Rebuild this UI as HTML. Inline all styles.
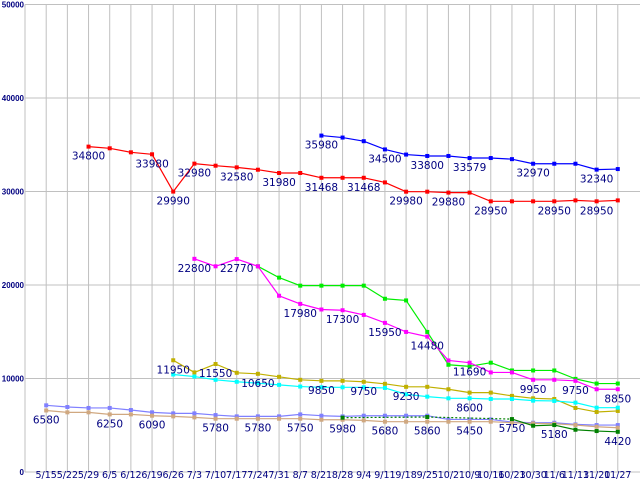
<!DOCTYPE html>
<html><head><meta charset="utf-8"><style>
body{margin:0;background:#fff}
svg{display:block;font-family:"DejaVu Sans","Liberation Sans",sans-serif}
</style></head><body>
<svg id="chart" width="640" height="480" viewBox="0 0 640 480"></svg>
<script>
const categories=["5/15","5/22","5/29","6/5","6/12","6/19","6/26","7/3","7/10","7/17","7/24","7/31","8/7","8/21","8/28","9/4","9/11","9/18","9/25","10/2","10/9","10/16","10/23","10/30","11/6","11/13","11/20","11/27"];
const yTicks=[0,10000,20000,30000,40000,50000];
const N=null;
const redValues=[N,N,34800,34620,34190,33980,29990,32980,32760,32580,32330,31980,31980,31468,31468,31468,30970,29980,29980,29880,29880,28950,28950,28950,28950,29050,28950,29050];
const blueValues=[N,N,N,N,N,N,N,N,N,N,N,N,N,35980,35770,35380,34500,33950,33800,33800,33579,33579,33460,32970,32970,32970,32340,32400];
const magentaValues=[N,N,N,N,N,N,N,22800,22000,22770,22000,18850,17980,17380,17300,16800,15950,14980,14480,11930,11690,10650,10650,9860,9860,9750,8850,8850];
const greenValues=[N,N,N,N,N,N,N,N,N,N,22000,20790,19930,19930,19930,19930,18530,18350,14980,11470,11300,11690,10860,10860,10860,9960,9460,9460];
const yellowValues=[N,N,N,N,N,N,11950,10650,11550,10610,10500,10180,9860,9750,9750,9650,9430,9110,9110,8850,8490,8490,8140,7880,7810,6850,6420,6530];
const cyanValues=[N,N,N,N,N,N,10430,10210,9860,9650,9500,9320,9140,9060,9060,9060,8990,8310,8060,7880,7880,7810,7810,7630,7600,7420,6880,6880];
const lightBlueValues=[7130,6950,6850,6850,6630,6380,6270,6270,6090,5950,5950,5950,6160,6020,5950,6020,6020,6020,6020,5620,5620,5620,5340,5270,5270,5090,5020,5020];
const tanValues=[6580,6380,6380,6160,6160,6020,5950,5840,5700,5700,5700,5700,5700,5590,5590,5520,5380,5380,5380,5380,5380,5380,5270,5200,5160,5020,4840,4730];
const darkGreenValues=[N,N,N,N,N,N,N,N,N,N,N,N,N,N,5810,N,N,N,5880,N,N,N,5660,4950,5020,4520,4380,4300];
const series=[
 {name:"red",values:redValues,color:"#ff0000"},
 {name:"blue",values:blueValues,color:"#0000ff"},
 {name:"green",values:greenValues,color:"#00ee00"},
 {name:"magenta",values:magentaValues,color:"#ff00ff"},
 {name:"yellow",values:yellowValues,color:"#c0b000"},
 {name:"cyan",values:cyanValues,color:"#00ffff"},
 {name:"lightblue",values:lightBlueValues,color:"#8080ff"},
 {name:"tan",values:tanValues,color:"#d0a880"},
 {name:"darkgreen",values:darkGreenValues,color:"#008000"}
];
const labelSeries=["red","red","red","red","red","red","red","red","red","red","red","red","red",
 "blue","blue","blue","blue","blue","blue",
 "magenta","magenta","magenta","magenta","magenta","magenta","magenta","magenta","magenta","magenta",
 "yellow","yellow","yellow","yellow","yellow","yellow","cyan",
 "tan","tan","tan","tan","tan","tan","tan","tan","tan","tan","darkgreen","darkgreen","darkgreen"];
const labelIndex=[2,5,6,7,9,11,13,15,17,19,21,24,26, 13,16,18,20,23,26, 7,9,12,14,16,18,20,23,25,27, 6,8,10,13,15,17,20, 0,3,5,8,10,12,14,16,18,20,22,24,27];
const labelText=["34800","33980","29990","32980","32580","31980","31468","31468","29980","29880","28950","28950","28950",
 "35980","34500","33800","33579","32970","32340",
 "22800","22770","17980","17300","15950","14480","11690","9950","9750","8850",
 "11950","11550","10650","9850","9750","9230","8600",
 "6580","6250","6090","5780","5780","5750","5980","5680","5860","5450","5750","5180","4420"];

const svg=document.getElementById('chart');
const NS="http://www.w3.org/2000/svg";
const plotLeft=25,plotTop=4.5,plotBottom=472;
function xPos(i){return 46.2+i*21.17;}
function yPos(v){return plotBottom-(v/50000)*(plotBottom-plotTop);}
function mk(tag,attrs,parent){const e=document.createElementNS(NS,tag);for(const k in attrs)e.setAttribute(k,attrs[k]);(parent||svg).appendChild(e);return e;}

const grid=mk('g',{});


yTicks.forEach(t=>{
 const l=mk('line',{x1:plotLeft,x2:640,y1:yPos(t),y2:yPos(t),stroke:'#c0c0c0','stroke-width':1},grid);
 
 
 const tx=mk('text',{x:24,y:yPos(t)+3,'text-anchor':'end','font-size':'8','font-weight':'bold','font-family':'Liberation Sans, sans-serif',fill:'#000080'});
 tx.textContent=String(t);
 
 
});
mk('line',{x1:plotLeft,x2:plotLeft,y1:plotTop,y2:plotBottom,stroke:'#c0c0c0'},grid);
categories.forEach((c,i)=>{
 const l=mk('line',{x1:xPos(i),x2:xPos(i),y1:plotTop,y2:plotBottom,stroke:'#c0c0c0'},grid);
 
 
 const tx=mk('text',{x:xPos(i),y:478,'text-anchor':'middle','font-size':'9.5',fill:'#000080'});
 tx.textContent=c;
 
 
});

series.forEach(s=>{
 const g=mk('g',{});
 
 
 let prev=null,gap=false;
 s.values.forEach((v,i)=>{
  if(v===null){if(prev)gap=true;return;}
  if(prev){
   const ln=mk('line',{x1:xPos(prev.i),y1:yPos(prev.v),x2:xPos(i),y2:yPos(v),stroke:s.color,'stroke-width':1.2},g);
   if(gap)ln.setAttribute('stroke-dasharray','2,2');
   
   
  }
  prev={i:i,v:v};gap=false;
 });
 s.values.forEach((v,i)=>{
  if(v===null)return;
  const r=mk('rect',{x:xPos(i)-2,y:yPos(v)-2,width:4,height:4,fill:s.color},g);
  
  
 });
});

const lg=mk('g',{});


labelText.forEach((t,k)=>{
 const s=series.find(q=>q.name===labelSeries[k]);
 const i=labelIndex[k];
 const v=s.values[i];
 const tx=mk('text',{x:xPos(i),y:yPos(v)+13,'text-anchor':'middle','font-size':'10.5',fill:'#000080'},lg);
 tx.textContent=t;
 
 
});
</script>
</body></html>
